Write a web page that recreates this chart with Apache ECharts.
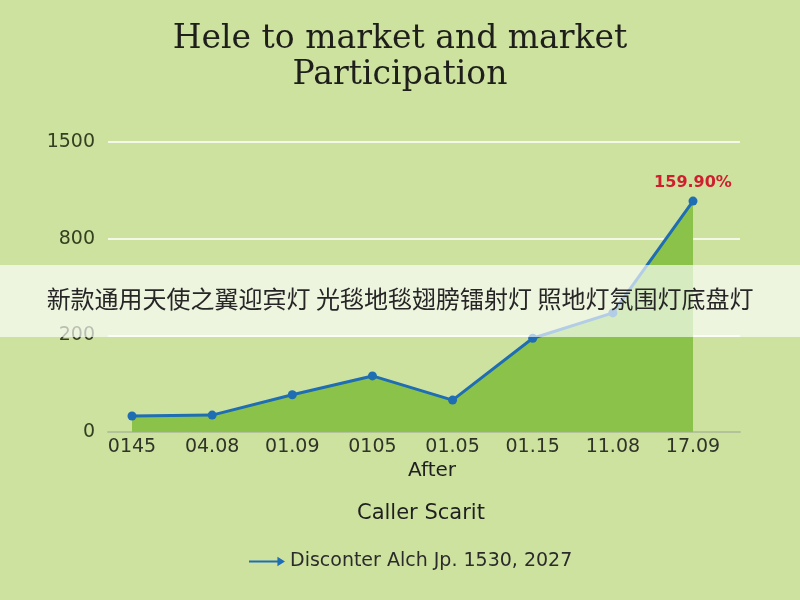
<!DOCTYPE html>
<html>
<head>
<meta charset="utf-8">
<script src="https://cdn.jsdelivr.net/npm/echarts@6/dist/echarts.min.js"></script>
<style>
html,body{margin:0;padding:0;background:#cee2a0;}
#chart{width:800px;height:600px;}
</style>
</head>
<body>
<div id="chart"></div>
<script>
const categories = ['0145', '04.08', '01.09', '0105', '01.05', '01.15', '11.08', '17.09'];
const seriesValues = [33, 35, 77, 116, 66, 194, 339, 1072];
const yTickValues = [0, 200, 800, 1500];
const yTickLabels = ['0', '200', '800', '1500'];
const peakLabel = '159.90%';
const seriesName = 'Disconter Alch Jp. 1530, 2027';
const titleText = 'Hele to market and market\nParticipation';
const xAxisName = 'After';
const subName = 'Caller Scarit';
const bannerText = '新款通用天使之翼迎宾灯 光毯地毯翅膀镭射灯 照地灯氛围灯底盘灯';

// the y axis places its tick labels evenly: map a value onto that tick scale
function toTickScale(v) {
  for (let i = 0; i < yTickValues.length - 1; i++) {
    if (v <= yTickValues[i + 1]) {
      return i + (v - yTickValues[i]) / (yTickValues[i + 1] - yTickValues[i]);
    }
  }
  return yTickValues.length - 1;
}

const chart = echarts.init(document.getElementById('chart'));
const lastIdx = seriesValues.length - 1;
const data = seriesValues.map((v, i) => {
  const item = { value: toTickScale(v) };
  if (i === lastIdx) {
    item.label = {
      show: true, position: 'top', distance: 6, formatter: peakLabel,
      color: '#cf1f2e', fontSize: 16, fontWeight: 'bold', fontFamily: 'DejaVu Sans'
    };
  }
  return item;
});

const option = {
  backgroundColor: '#cee2a0',
  animation: false,
  title: {
    text: titleText, left: 'center', top: 16,
    textStyle: { fontFamily: 'DejaVu Serif', fontSize: 33, fontWeight: 'normal', color: '#1e1f1a', lineHeight: 36 }
  },
  legend: {
    bottom: 24, left: 244,
    icon: 'path://M0,4 L30,4 L30,0 L38,5 L30,10 L30,6 L0,6 Z',
    itemWidth: 36, itemHeight: 10, itemGap: 10,
    textStyle: { fontFamily: 'DejaVu Sans', fontSize: 19, color: '#2b2b2b' },
    data: [{ name: seriesName, itemStyle: { color: '#1f6db3' } }]
  },
  grid: [
    { left: 108, right: 60, top: 142, bottom: 168 },
    { left: 132, right: 107, top: 142, bottom: 168 }
  ],
  xAxis: [
    {
      gridIndex: 0, type: 'value', min: 0, max: 1,
      axisLine: { show: true, lineStyle: { color: '#b3c298', width: 2 } },
      axisTick: { show: false }, axisLabel: { show: false }, splitLine: { show: false }
    },
    {
      gridIndex: 1, type: 'category', data: categories, boundaryGap: false,
      axisLine: { show: false }, axisTick: { show: false },
      axisLabel: { margin: 6, fontFamily: 'DejaVu Sans', fontSize: 19, color: '#2f3328' }
    }
  ],
  yAxis: [
    {
      gridIndex: 0, type: 'value', min: 0, max: 3, interval: 1,
      axisLine: { show: false }, axisTick: { show: false },
      axisLabel: {
        margin: 13, fontFamily: 'DejaVu Sans', fontSize: 19, color: '#34401f',
        formatter: v => yTickLabels[Math.round(v)]
      },
      splitLine: { show: true, lineStyle: { color: 'rgba(255,255,255,0.75)', width: 2 } }
    },
    {
      gridIndex: 1, type: 'value', min: 0, max: 3, interval: 1,
      axisLine: { show: false }, axisTick: { show: false },
      axisLabel: { show: false }, splitLine: { show: false }
    }
  ],
  series: [{
    name: seriesName, type: 'line', xAxisIndex: 1, yAxisIndex: 1,
    data: data,
    symbol: 'circle', symbolSize: 9,
    itemStyle: { color: '#1f6db3' },
    lineStyle: { color: '#1f6db3', width: 3 },
    areaStyle: { color: '#8bc34a', opacity: 1 },
    z: 3
  }],
  graphic: [
    { type: 'text', left: 408, top: 461, style: { text: xAxisName, fontFamily: 'DejaVu Sans', fontSize: 20, fontWeight: 500, fill: '#1f1f1f' }, z: 10 },
    { type: 'text', left: 357, top: 503, style: { text: subName, fontFamily: 'DejaVu Sans', fontSize: 21, fontWeight: 500, fill: '#1f1f1f' }, z: 10 },
    { type: 'rect', left: 0, top: 265, shape: { width: 800, height: 72 }, style: { fill: 'rgba(255,255,255,0.66)' }, z: 100 },
    { type: 'text', left: 'center', top: 287, style: { text: bannerText, fontFamily: 'Noto Sans CJK SC', fontSize: 24, fill: '#262626' }, z: 101 }
  ]
};
chart.setOption(option);
</script>
</body>
</html>
